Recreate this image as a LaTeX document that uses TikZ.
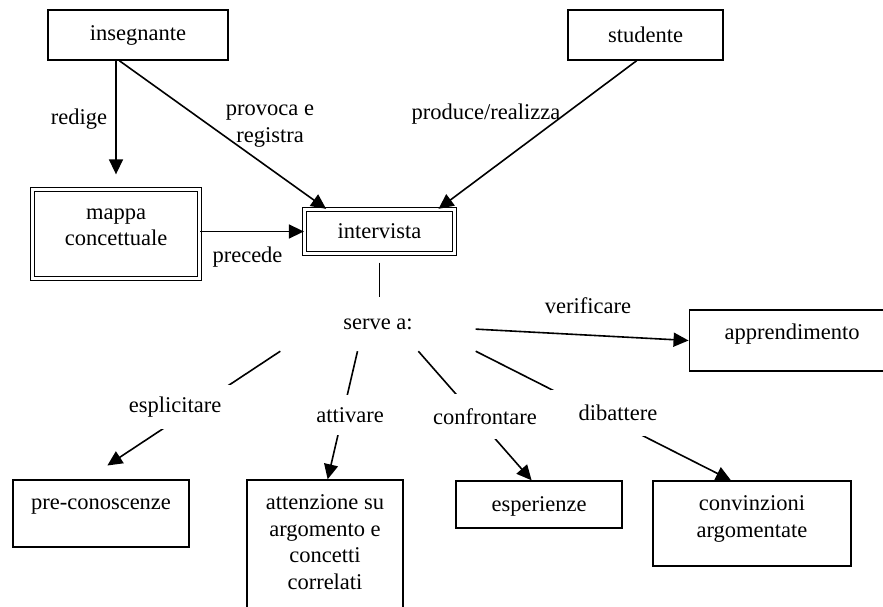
\documentclass[tikz,border=0pt]{standalone}
\usepackage{fontspec}
\setmainfont{Liberation Serif}
\usetikzlibrary{arrows.meta}

\begin{document}
\begin{tikzpicture}[x=1pt, y=-1pt,
  font=\fontsize{22.5}{26.5}\selectfont,
  box/.style={draw, line width=1.4pt, inner sep=0pt, align=center},
  dbox/.style={box, double, double distance=2.4pt, line width=1.3pt},
  lbl/.style={inner sep=2pt, align=center},
  verb/.style={fill=white, inner xsep=#1},
  link/.style={line width=1.6pt},
  arr/.style={link, ->},
  >={Triangle[length=15pt, width=14pt]}
]
\useasboundingbox (0,0) rectangle (883,607);
\fill[white] (0,0) rectangle (883,607);

% Top row
\node[box, minimum width=180pt, minimum height=50pt] (ins) at (138,35) {insegnante};
\node[box, minimum width=155pt, minimum height=50pt] (stu) at (645.5,35) {studente};

% Map and interview
\node[dbox, minimum width=167pt, text height=56pt, text depth=33pt] (map) at (116,234) {mappa\\concettuale};
\node[dbox, minimum width=150pt, minimum height=44pt] (int) at (379.5,231.5) {intervista};
\node[minimum width=195pt, minimum height=54pt, inner sep=0pt] (serve) at (378,324) {serve a:};

% Targets
\node[box, minimum width=205.5pt, text height=29pt, text depth=32pt] (app) at (792,340.5) {apprendimento};
\node[box, minimum width=176pt, text height=29.5pt, text depth=37.5pt] (pre) at (101,513.5) {pre-conoscenze};
\node[box, minimum width=156pt, text height=109pt, text depth=41pt] (att) at (325,555) {attenzione su\\argomento e\\concetti\\correlati};
\node[box, minimum width=166pt, text height=30pt, text depth=17pt] (esp) at (539,504.5) {esperienze};
\node[box, minimum width=198pt, text height=56pt, text depth=29pt] (conv) at (752,523.5) {convinzioni\\argomentate};

% Upper connectors
\draw[arr, shorten >=14.5pt] (ins.south -| map.north) -- (map.north);
\draw[arr] (ins.234) -- (int.157);
\draw[arr] (stu.251) -- (int.21);
\draw[arr] (map.east |- int.west) -- (int.west);
\draw[link, shorten <=8.5pt] (int.south) -- (int.south |- serve.north);

\node[lbl] (redige) at (79,119) {redige};
\node[lbl] (provoca) at (270,126) {provoca e\\registra};
\node[lbl] (produce) at (486,114) {produce/realizza};
\node[lbl] (precede) at (247.5,257) {precede};

% serve a: branches
\draw[arr] (serve.357) -- (app.west);
\node[lbl] (verif) at (588,306) {verificare};

\draw[arr, shorten >=25pt] (serve.south west) -- (pre.113);
\draw[arr] (serve.233.5) -- (att.88);
\draw[arr] (serve.326.6) -- (esp.107);
\draw[arr] (serve.south east) -- (conv.116);

\node[verb=10pt, inner ysep=12pt] (espl) at (175,407) {esplicitare};
\node[verb=4pt, inner ysep=12.5pt] (attiv) at (350,415) {attivare};
\node[verb=4pt, inner ysep=14pt] (confr) at (485,416.5) {confrontare};
\node[verb=28pt, inner ysep=15.5pt] (dibat) at (618,413) {dibattere};

\end{tikzpicture}
\end{document}
